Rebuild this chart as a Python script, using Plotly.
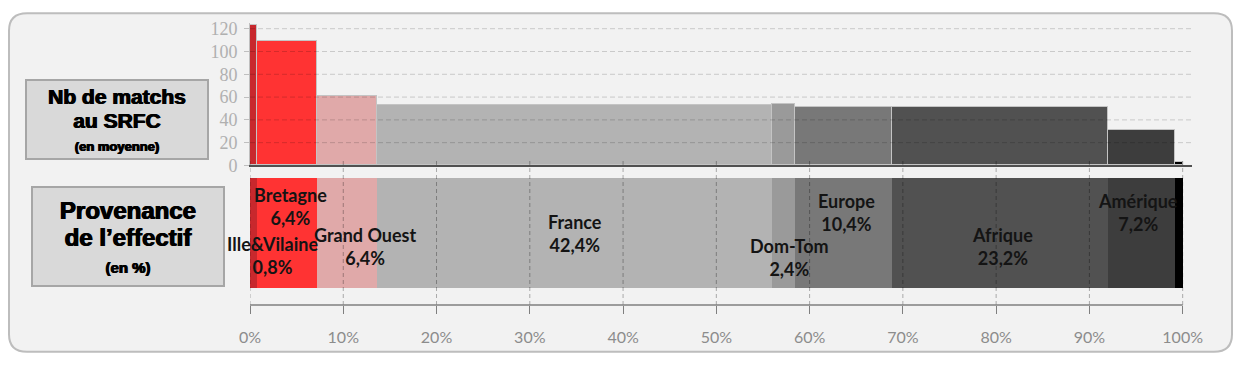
import plotly.graph_objects as go

# ---------------- data ----------------
regions = ["Ille&Vilaine", "Bretagne", "Grand Ouest", "France", "Dom-Tom",
           "Europe", "Afrique", "Amérique", "Asie"]
share_pct = [0.8, 6.4, 6.4, 42.4, 2.4, 10.4, 23.2, 7.2, 0.8]
avg_matches = [123, 109, 61, 53, 54, 51, 51, 31, 3]
y_ticks = [0, 20, 40, 60, 80, 100, 120]
x_ticks = [0, 10, 20, 30, 40, 50, 60, 70, 80, 90, 100]
x_tick_labels = ["0%", "10%", "20%", "30%", "40%", "50%", "60%", "70%", "80%", "90%", "100%"]

# ---------------- style ----------------
colors = ["#c8282d", "#ff3333", "#e0a9a9", "#b3b3b3", "#9a9a9a",
          "#787878", "#515151", "#3d3d3d", "#000000"]
# label anchor (x in %, y in bar units 0..1) tuned to the reference layout
label_pos = [(2.4, 0.30), (4.3, 0.74), (12.4, 0.38), (34.8, 0.50), (57.8, 0.28),
             (64.0, 0.69), (80.7, 0.38), (95.2, 0.69), (101.5, 0.31)]

# page shows the figure with an 8px body margin -> work in screen px, subtract OFF
OFF = 8
W, H = 1245 - 2 * OFF, 365 - 2 * OFF
ML, MT = 250 - OFF, 19 - OFF
MR = W - (1192 - OFF)
MB = H - (308 - OFF)
PW, PH = W - ML - MR, H - MT - MB
XMAX = 101


def px2paper_x(p):
    return (p - OFF - ML) / PW


def px2paper_y(p):
    return (H - MB - (p - OFF)) / PH


split = px2paper_y(165)

# cumulative positions
lefts = []
acc = 0.0
for s in share_pct:
    lefts.append(acc)
    acc += s
mids = [l + s / 2 for l, s in zip(lefts, share_pct)]

fig = go.Figure()

# top chart: variable-width bars
fig.add_trace(go.Bar(
    x=mids, y=avg_matches, width=share_pct,
    marker=dict(color=colors, line=dict(color="#c4c4c4", width=1.2)),
    xaxis="x", yaxis="y", showlegend=False, hoverinfo="skip"))

# bottom chart: 100% stacked bar
for name, s, c in zip(regions, share_pct, colors):
    fig.add_trace(go.Bar(
        x=[s], y=[0.5], width=1, orientation="h",
        marker=dict(color=c, line=dict(width=0)),
        xaxis="x2", yaxis="y2", showlegend=False, name=name, hoverinfo="skip"))

shapes = []
# outer rounded frame
x0, x1 = px2paper_x(9), px2paper_x(1232)
y0, y1 = px2paper_y(356), px2paper_y(9)
rx, ry = 18 / PW, 18 / PH
path = (f"M {x0+rx},{y1} L {x1-rx},{y1} Q {x1},{y1} {x1},{y1-ry} "
        f"L {x1},{y0+ry} Q {x1},{y0} {x1-rx},{y0} L {x0+rx},{y0} "
        f"Q {x0},{y0} {x0},{y0+ry} L {x0},{y1-ry} Q {x0},{y1} {x0+rx},{y1} Z")
shapes.append(dict(type="path", path=path, xref="paper", yref="paper",
                   fillcolor="#f2f2f2", line=dict(color="#bdbdbd", width=2),
                   layer="below"))

# horizontal dashed gridlines over bars (top chart)
for v in y_ticks[1:]:
    shapes.append(dict(type="line", xref="x domain", yref="y", x0=0, x1=1, y0=v, y1=v,
                       line=dict(color="rgba(0,0,0,0.17)", width=1, dash="5px,3px"),
                       layer="above"))
# vertical dashed gridlines (bottom chart, poking into top chart)
for v in x_ticks:
    shapes.append(dict(type="line", xref="x2", yref="paper", x0=v, x1=v,
                       y0=0, y1=px2paper_y(158),
                       line=dict(color="rgba(0,0,0,0.3)", width=1, dash="4px,3px"),
                       layer="above"))
# bottom axis line (0..100 %)
shapes.append(dict(type="line", xref="x2", yref="paper", x0=0, x1=100, y0=0, y1=0,
                   line=dict(color="#7f7f7f", width=1.5), layer="above"))

annotations = []
for (name, s), (lx, ly) in zip(zip(regions, share_pct), label_pos):
    pct = f"{s:.1f}%".replace(".", ",")
    annotations.append(dict(
        x=lx, y=ly, xref="x2", yref="y2", text=f"{name}<br>{pct}",
        showarrow=False, xanchor="center", yanchor="middle",
        font=dict(family="Lato", size=18, color="#141414", weight="bold")))

box_font = dict(family="Liberation Sans", color="#000000",
                shadow="0.6px 0 0 #000, -0.6px 0 0 #000")
annotations.append(dict(
    x=px2paper_x(117), y=px2paper_y(117.5), xref="paper", yref="paper",
    text=("<span style='font-size:21px'><b>Nb de matchs</b></span><br>"
          "<span style='font-size:21px'><b>au SRFC</b></span><br>"
          "<span style='font-size:13px'><b>(en moyenne)</b></span>"),
    showarrow=False, xanchor="center", yanchor="middle",
    width=180, height=77, bgcolor="#d9d9d9", bordercolor="#a6a6a6", borderwidth=2,
    borderpad=0, font=dict(size=18, **box_font)))
annotations.append(dict(
    x=px2paper_x(128), y=px2paper_y(237.5), xref="paper", yref="paper",
    text=("<span style='font-size:24px'><b>Provenance</b></span><br>"
          "<span style='font-size:24px'><b>de l’effectif</b></span><br>"
          "<span style='font-size:15px'><b>(en %)</b></span>"),
    showarrow=False, xanchor="center", yanchor="middle",
    width=190, height=97, bgcolor="#d9d9d9", bordercolor="#a6a6a6", borderwidth=2,
    borderpad=0, font=dict(size=21, **box_font)))

fig.update_layout(
    width=W, height=H,
    margin=dict(l=ML, r=MR, t=MT, b=MB),
    paper_bgcolor="white", plot_bgcolor="rgba(0,0,0,0)",
    barmode="stack", bargap=0,
    shapes=shapes, annotations=annotations,
    xaxis=dict(domain=[0, 1], range=[0, XMAX], anchor="y", showgrid=False,
               showticklabels=False, ticks="", zeroline=False,
               showline=True, linecolor="#505050", linewidth=2),
    yaxis=dict(domain=[split, 1], range=[0, 125], anchor="x", tickvals=y_ticks,
               showgrid=False, zeroline=False, showline=True, linecolor="#bfbfbf",
               linewidth=1, ticks="outside", ticklen=5, tickcolor="#bfbfbf",
               ticklabelstandoff=3,
               tickfont=dict(family="Liberation Serif", size=18, color="#b0b0b0")),
    xaxis2=dict(domain=[0, 1], range=[0, XMAX], anchor="y2", tickvals=x_ticks,
                ticktext=x_tick_labels, showgrid=False, zeroline=False, showline=False,
                ticks="outside", ticklen=8, tickcolor="#7f7f7f", ticklabelstandoff=10,
                tickfont=dict(family="Lato", size=16, color="#8c8c8c")),
    yaxis2=dict(domain=[0, split], range=[-0.15, 1.115], anchor="x2", showgrid=False,
                zeroline=False, showticklabels=False, ticks="", showline=False),
)

fig.write_html("out.html")
